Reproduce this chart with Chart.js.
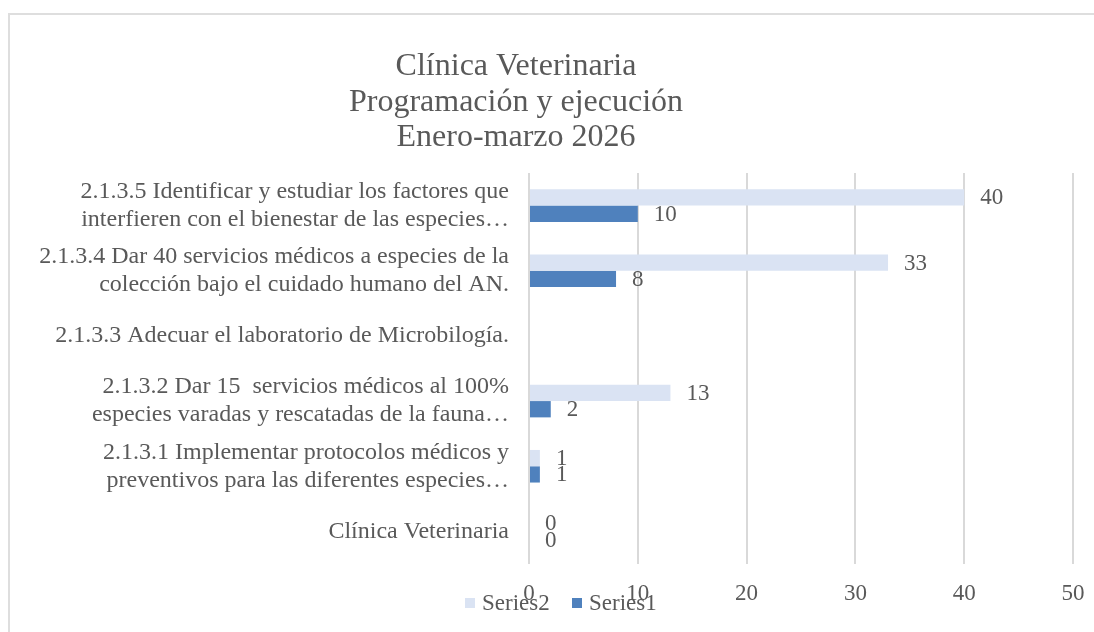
<!DOCTYPE html>
<html>
<head>
<meta charset="utf-8">
<script src="https://cdn.jsdelivr.net/npm/chart.js@4"></script>
<style>
  html, body { margin: 0; padding: 0; background: #fff; overflow: hidden; }
  #frame { position: absolute; left: 8px; top: 13px; width: 1086px; height: 619px; border: 2px solid #dedede; border-right: none; border-bottom: none; box-sizing: border-box; }
  #wrap { position: absolute; left: 0; top: 0; width: 1094px; height: 632px; }
</style>
</head>
<body>
<div id="frame"></div>
<div id="wrap"><canvas id="chart"></canvas></div>
<script>
// categories top to bottom, as they appear in the picture
const categories = [
    ['2.1.3.5 Identificar y estudiar los factores que', 'interfieren con el bienestar de las especies…'],
    ['2.1.3.4 Dar 40 servicios médicos a especies de la', 'colección bajo el cuidado humano del AN.'],
    '2.1.3.3 Adecuar el laboratorio de Microbilogía.',
    ['2.1.3.2 Dar 15  servicios médicos al 100%', 'especies varadas y rescatadas de la fauna…'],
    ['2.1.3.1 Implementar protocolos médicos y', 'preventivos para las diferentes especies…'],
    'Clínica Veterinaria'
] ;
const series2 = [40, 33, null, 13, 1, 0] ;
const series1 = [10, 8, null, 2, 1, 0] ;
const titleLines = ['Clínica Veterinaria', 'Programación y ejecución', 'Enero-marzo 2026'] ;

const textColor = '#595959' ;
const serif = '"Liberation Serif", "Times New Roman", serif' ;
const lightBlue = '#dae3f3' ;
const darkBlue = '#4f81bd' ;

const titlePlugin = {
    id: 'titlePlugin',
    afterDraw(chart) {
        const ctx = chart.ctx ;
        ctx.save() ;
        ctx.fillStyle = textColor ;
        ctx.font = '32px ' + serif ;
        ctx.textAlign = 'center' ;
        ctx.textBaseline = 'middle' ;
        titleLines.forEach((t, i) => ctx.fillText(t, 516, 67 + i*35.5)) ;
        ctx.restore() ;
    }
}

const valueLabels = {
    id: 'valueLabels',
    afterDatasetsDraw(chart) {
        const ctx = chart.ctx ;
        ctx.save() ;
        ctx.fillStyle = textColor ;
        ctx.font = '23px ' + serif ;
        ctx.textAlign = 'left' ;
        ctx.textBaseline = 'middle' ;
        chart.data.datasets.forEach((ds, di) => {
            chart.getDatasetMeta(di).data.forEach((bar, i) => {
                if (ds.data[i] === null) return ;
                ctx.fillText(ds.data[i], bar.x + 16, bar.y + 1) ;
            }) ;
        }) ;
        ctx.restore() ;
    }
}

// legend sits on top of the axis labels like in the original
const legendPlugin = {
    id: 'legendPlugin',
    afterDraw(chart) {
        const ctx = chart.ctx ;
        ctx.save() ;
        ctx.font = '23px ' + serif ;
        ctx.textBaseline = 'middle' ;
        ctx.textAlign = 'left' ;
        const items = [[chart.data.datasets[0], 465], [chart.data.datasets[1], 572]] ;
        items.forEach(([ds, x]) => {
            ctx.fillStyle = ds.backgroundColor ;
            ctx.fillRect(x, 598, 10, 10) ;
            ctx.fillStyle = textColor ;
            ctx.fillText(ds.label, x + 17, 604) ;
        }) ;
        ctx.restore() ;
    }
}

const chart = new Chart(document.getElementById('chart'), {
    type: 'bar',
    data: {
        labels: categories,
        datasets: [{
            label: 'Series2',
            data: series2,
            backgroundColor: lightBlue,
            categoryPercentage: 0.5,
            barPercentage: 1.0
        }, {
            label: 'Series1',
            data: series1,
            backgroundColor: darkBlue,
            categoryPercentage: 0.5,
            barPercentage: 1.0
        }]
    },
    options: {
        indexAxis: 'y',
        responsive: true,
        maintainAspectRatio: false,
        animation: false,
        layout: { padding: { top: 173, right: 21, bottom: 0, left: 0 } },
        scales: {
            x: {
                min: 0,
                max: 50,
                ticks: { stepSize: 10, color: textColor, font: { family: serif, size: 23 }, padding: 16 },
                grid: { color: '#d9d9d9', lineWidth: 2, drawTicks: false },
                border: { display: false },
                afterFit(scale) {
                    scale.height = 68 ;
                    scale.paddingLeft = 0 ;
                    scale.paddingRight = 0 ;
                }
            },
            y: {
                ticks: { color: textColor, font: { family: serif, size: 24, lineHeight: 1.17 }, padding: 20, autoSkip: false },
                grid: { display: false, drawTicks: false },
                border: { display: false },
                afterFit(scale) { scale.width = 529 ; }
            }
        },
        plugins: {
            legend: { display: false },
            title: { display: false },
            tooltip: { enabled: false }
        }
    },
    plugins: [titlePlugin, valueLabels, legendPlugin]
});
</script>
</body>
</html>
